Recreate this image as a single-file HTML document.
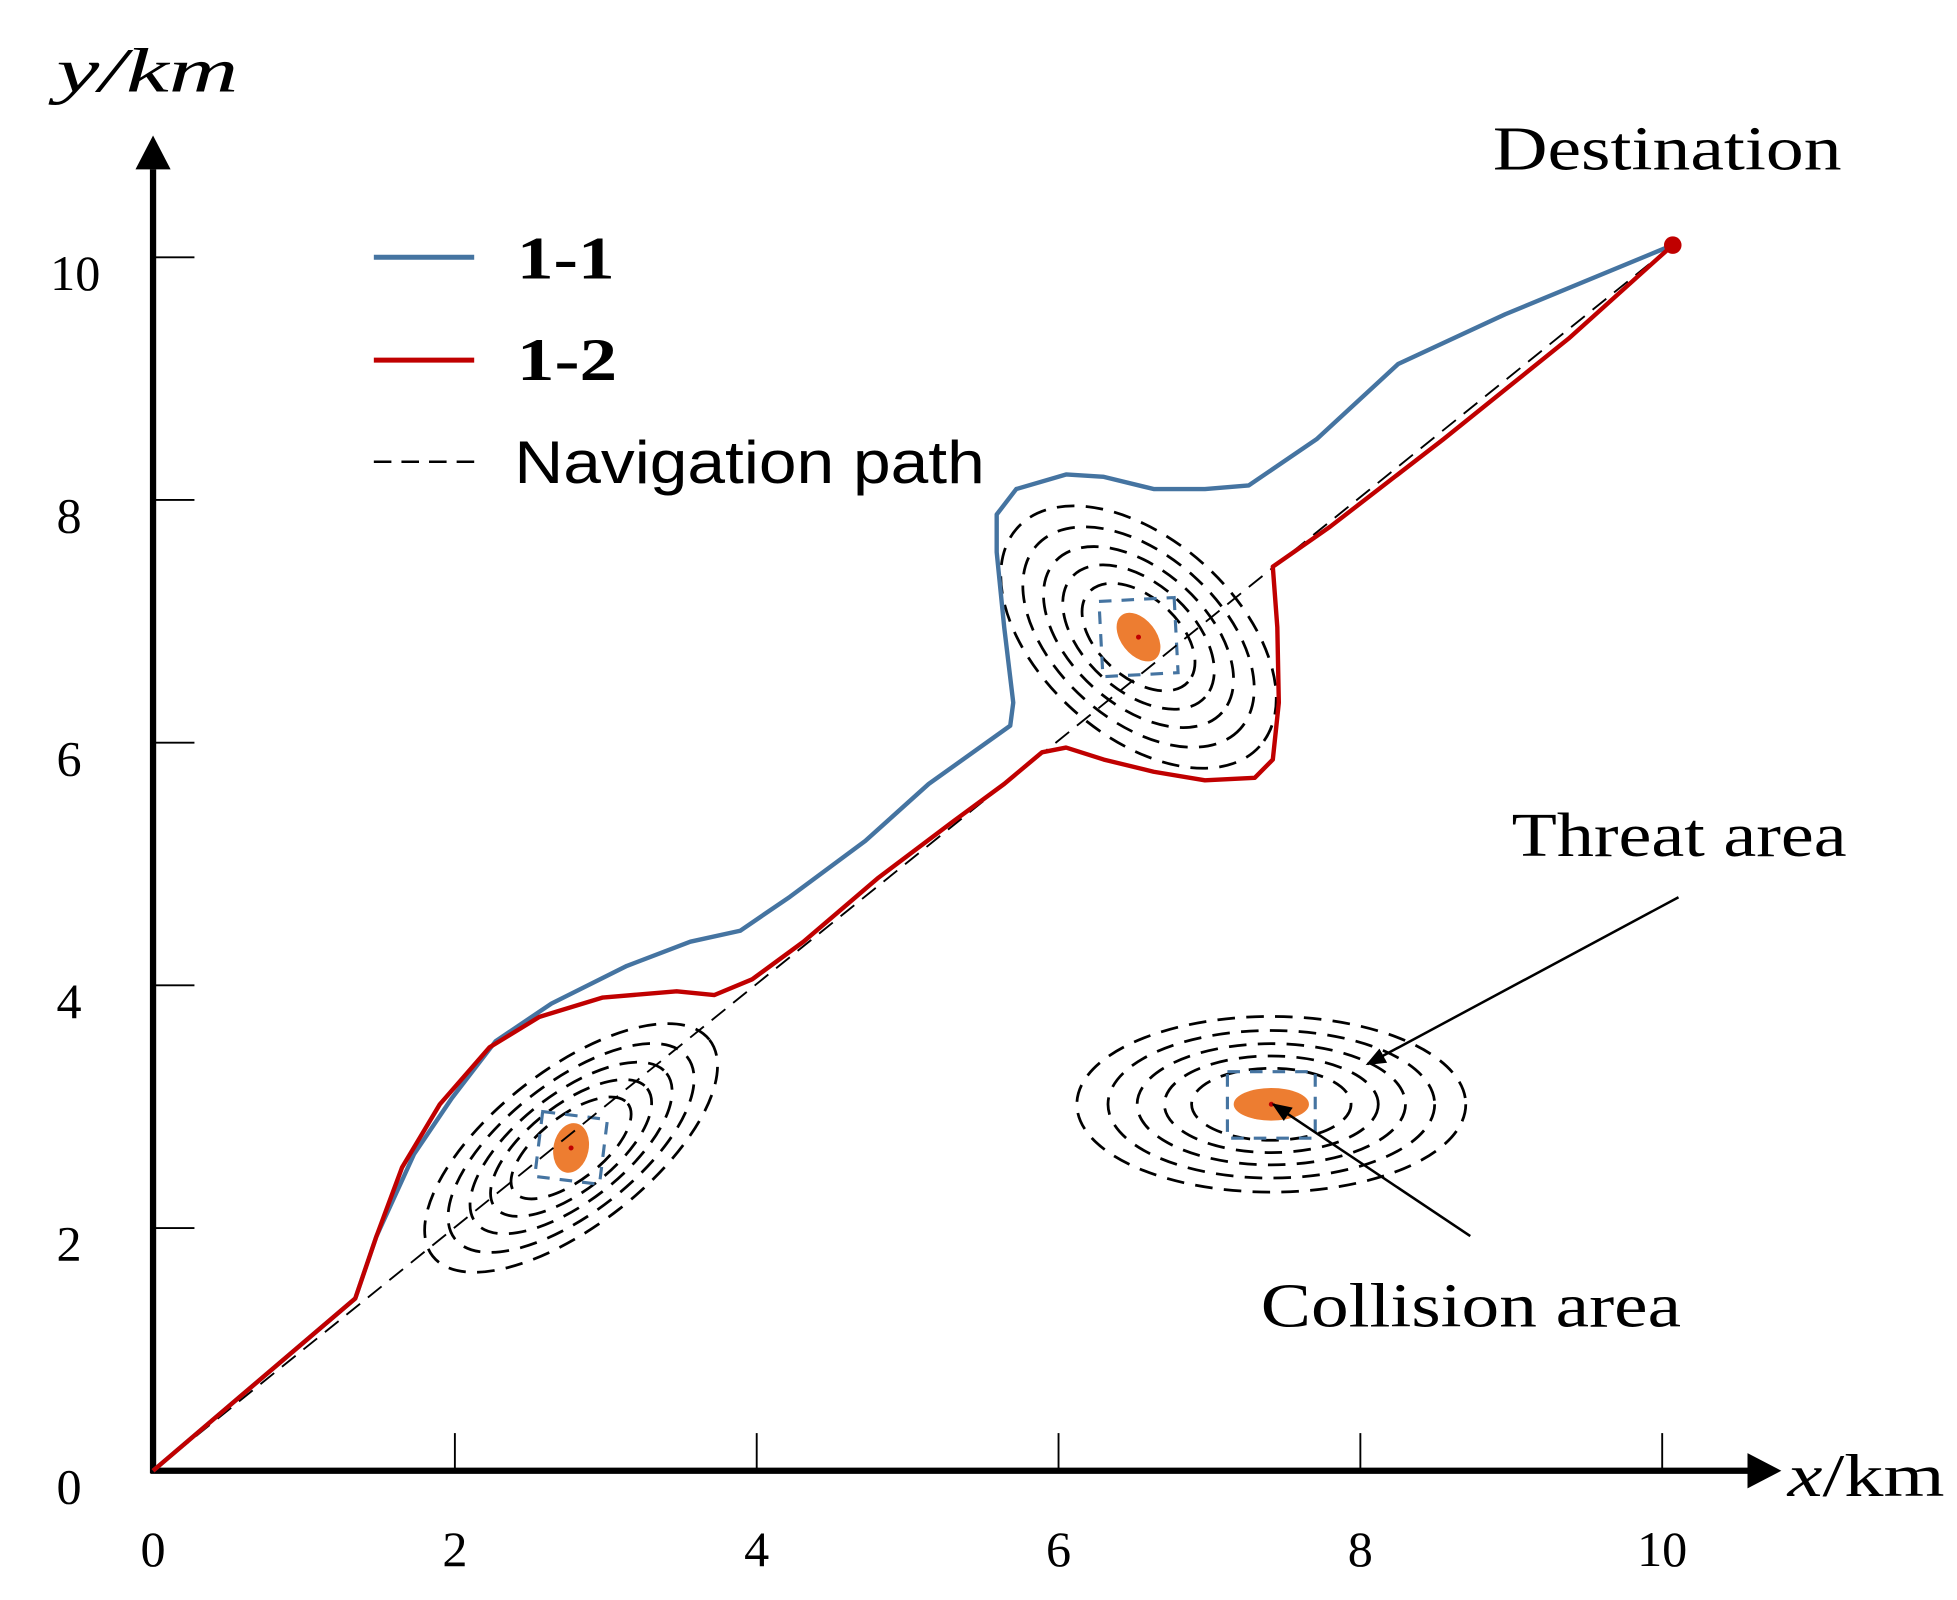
<!DOCTYPE html>
<html><head><meta charset="utf-8"><style>
html,body{margin:0;padding:0;background:#fff;}
svg{display:block;}
</style></head><body>
<svg id="chart" width="1957" height="1600" viewBox="0 0 1560 1275" preserveAspectRatio="none" xmlns="http://www.w3.org/2000/svg">
<defs>
<marker id="ah" viewBox="0 0 10 10" refX="9" refY="5" markerWidth="8" markerHeight="8" orient="auto"><path d="M0,1 L10,5 L0,9 z" fill="#000"/></marker>
</defs>
<g id="axes"></g>
<g id="areas"></g>
<g id="series"></g>
<g>
<line x1="298" y1="205" x2="378" y2="205" stroke="#4574a1" stroke-width="4"/>
<text x="412" y="222" font-family="Liberation Serif, serif" font-weight="bold" font-size="48" textLength="78" lengthAdjust="spacingAndGlyphs">1-1</text>
<line x1="298" y1="287" x2="378" y2="287" stroke="#c00000" stroke-width="4"/>
<text x="412" y="303" font-family="Liberation Serif, serif" font-weight="bold" font-size="48" textLength="80" lengthAdjust="spacingAndGlyphs">1-2</text>
<line x1="298" y1="368" x2="378" y2="368" stroke="#000" stroke-width="2" stroke-dasharray="14,8"/>
<text x="410" y="385" font-family="Liberation Sans, sans-serif" font-size="48" textLength="375" lengthAdjust="spacingAndGlyphs">Navigation path</text>
</g>
<text x="1190" y="135" font-family="Liberation Serif, serif" font-size="50" textLength="278" lengthAdjust="spacingAndGlyphs">Destination</text>
<text x="1205" y="682" font-family="Liberation Serif, serif" font-size="50" textLength="267" lengthAdjust="spacingAndGlyphs">Threat area</text>
<text x="1005" y="1057" font-family="Liberation Serif, serif" font-size="50" textLength="335" lengthAdjust="spacingAndGlyphs">Collision area</text>
<line x1="1338" y1="715" x2="1090" y2="848" stroke="#000" stroke-width="2" marker-end="url(#ah)"/>
<line x1="1172" y1="985" x2="1015" y2="880" stroke="#000" stroke-width="2" marker-end="url(#ah)"/>
<text x="45" y="73" font-family="Liberation Serif, serif" font-style="italic" font-size="50" textLength="145" lengthAdjust="spacingAndGlyphs">y/km</text>
<text x="1425" y="1192" font-family="Liberation Serif, serif" font-size="48" textLength="125" lengthAdjust="spacingAndGlyphs"><tspan font-style="italic">x</tspan>/km</text>
</svg>
<script>
const xTicks=[0,2,4,6,8,10];
const yTicks=[0,2,4,6,8,10];
const destination=[10.07,10.1];
const path11X=[0,1.34,1.48,1.73,1.98,2.27,2.64,3.14,3.56,3.89,4.22,4.72,5.14,5.68,5.70,5.64,5.59,5.59,5.72,6.05,6.30,6.63,6.97,7.26,7.71,8.25,8.96,10.07];
const path11Y=[0,1.42,1.93,2.61,3.07,3.54,3.85,4.16,4.36,4.45,4.73,5.19,5.66,6.14,6.33,6.95,7.57,7.88,8.09,8.21,8.19,8.09,8.09,8.12,8.50,9.12,9.53,10.10];
const path12X=[0,1.34,1.48,1.65,1.90,2.23,2.56,2.98,3.47,3.72,3.97,4.31,4.80,5.30,5.64,5.89,6.05,6.30,6.63,6.97,7.30,7.42,7.46,7.45,7.42,7.80,8.55,9.38,10.07];
const path12Y=[0,1.42,1.93,2.50,3.02,3.49,3.74,3.90,3.95,3.92,4.05,4.36,4.88,5.35,5.66,5.92,5.96,5.86,5.76,5.69,5.71,5.86,6.33,6.95,7.45,7.78,8.50,9.33,10.10];
const areaX=[2.77,6.53,7.41];
const areaY=[2.66,6.87,3.02];

const NS='http://www.w3.org/2000/svg';
const X=v=>122+v*120.3;
const Y=v=>1172-v*96.7;
function mk(parent,tag,attrs){const e=document.createElementNS(NS,tag);for(const k in attrs)e.setAttribute(k,attrs[k]);parent.appendChild(e);return e;}
const axes=document.getElementById('axes');
let e;
e=mk(axes,'line',{x1:122,y1:1174,x2:122,y2:135,stroke:'#000','stroke-width':5});


e=mk(axes,'path',{d:'M108,135 L136,135 L122,108 Z',fill:'#000'});


e=mk(axes,'line',{x1:120,y1:1172,x2:1395,y2:1172,stroke:'#000','stroke-width':5});


e=mk(axes,'path',{d:'M1393,1158 L1393,1186 L1420,1172 Z',fill:'#000'});


xTicks.forEach(t=>{
  let l=mk(axes,'line',{x1:X(t),y1:1172,x2:X(t),y2:1142,stroke:'#000','stroke-width':1.5});
  
  
  let tx=mk(axes,'text',{x:X(t),y:1248,'text-anchor':'middle','font-family':'Liberation Serif, serif','font-size':40});
  tx.textContent=t;
  
  
});
yTicks.forEach(t=>{
  if(t>0){let l=mk(axes,'line',{x1:122,y1:Y(t),x2:155,y2:Y(t),stroke:'#000','stroke-width':1.5});
  
  }
  let tx=mk(axes,'text',{x:t>=10?60:55,y:Y(t)+26,'text-anchor':'middle','font-family':'Liberation Serif, serif','font-size':40});
  tx.textContent=t;
  
  
});
const areas=document.getElementById('areas');
const shapes=[{rx:140,ry:62,rot:-38,sq:26,orx:20,ory:14,orot:-40},{rx:130,ry:78,rot:42,sq:30,orx:22,ory:14,orot:10},{rx:155,ry:70,rot:0,sq:0,orx:30,ory:13,orot:0}];
areaX.forEach((ax,i)=>{
  const cx=X(ax),cy=Y(areaY[i]),s=shapes[i];
  const g=mk(areas,'g',{transform:`translate(${cx},${cy}) rotate(${s.rot})`});
  
  
  [1,0.84,0.69,0.55,0.41].forEach(f=>{
    const el=mk(g,'ellipse',{cx:0,cy:0,rx:s.rx*f,ry:s.ry*f,fill:'none',stroke:'#000','stroke-width':2.2,'stroke-dasharray':'14,9'});
    
    
  });
  let r;
  if(s.sq) r=mk(g,'rect',{x:-s.sq,y:-s.sq,width:2*s.sq,height:2*s.sq,fill:'none',stroke:'#4574a1','stroke-width':2.5,'stroke-dasharray':'10,8',transform:'rotate(45)'});
  else r=mk(g,'rect',{x:-35,y:-26,width:70,height:53,fill:'none',stroke:'#4574a1','stroke-width':2.5,'stroke-dasharray':'10,8'});
  
  
  const o=mk(g,'ellipse',{cx:0,cy:0,rx:s.orx,ry:s.ory,fill:'#ed7d31',transform:'rotate('+s.orot+')'});
  
  
  const d=mk(g,'circle',{cx:0,cy:0,r:2,fill:'#c00000'});
  
  
});
const series=document.getElementById('series');
e=mk(series,'line',{x1:X(0),y1:Y(0),x2:X(destination[0]),y2:Y(destination[1]),stroke:'#000','stroke-width':1.5,'stroke-dasharray':'14,8'});


function pts(xs,ys){return xs.map((v,i)=>X(v).toFixed(1)+','+Y(ys[i]).toFixed(1)).join(' ');}
e=mk(series,'polyline',{points:pts(path11X,path11Y),fill:'none',stroke:'#4574a1','stroke-width':3.5,'stroke-linejoin':'round'});


e=mk(series,'polyline',{points:pts(path12X,path12Y),fill:'none',stroke:'#c00000','stroke-width':3.5,'stroke-linejoin':'round'});


e=mk(series,'circle',{cx:X(destination[0]),cy:Y(destination[1]),r:7,fill:'#c00000'});


</script>
</body></html>
